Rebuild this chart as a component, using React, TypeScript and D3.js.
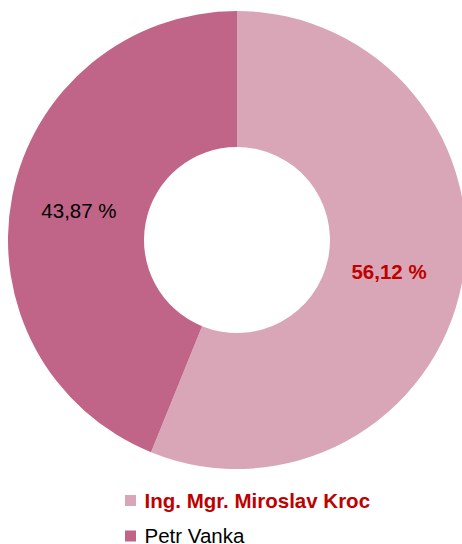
import React from "react";
import * as d3 from "d3";

const categories = ["Ing. Mgr. Miroslav Kroc", "Petr Vanka"];
const values = [56.12, 43.87];
const labels = ["56,12 %", "43,87 %"];
const colors = ["#D8A6B6", "#C06488"];
const labelColors = ["#C00000", "#000000"];
const labelWeights = ["bold", "normal"];
const labelDx = [-6, 0];

export default function App() {
  const W = 462, H = 544;
  const cx = 237, cy = 240, R = 229, r = 93;
  const pie = d3.pie<number>().sort(null).value((d) => d)(values);
  const arc = d3.arc<d3.PieArcDatum<number>>().innerRadius(r).outerRadius(R);
  const font = "Liberation Sans, Arial, sans-serif";
  return (
    <svg width={W} height={H} style={{ position: "absolute", left: 0, top: 0 }}>
      <rect width={W} height={H} fill="#fff" />
      <g transform={`translate(${cx},${cy})`}>
        {pie.map((p, i) => (
          <path key={i} d={arc(p) || ""} fill={colors[i]} />
        ))}
        {pie.map((p, i) => {
          const [x, y] = arc.centroid(p);
          return (
            <text key={i} x={x + labelDx[i]} y={y + 1} textAnchor="middle" dominantBaseline="central"
              fontFamily={font} fontSize={20.5} fontWeight={labelWeights[i]} fill={labelColors[i]}>
              {labels[i]}
            </text>
          );
        })}
      </g>
      {categories.map((c, i) => (
        <g key={i} transform={`translate(125,${495 + i * 35.5})`}>
          <rect width={11} height={11} fill={colors[i]} />
          <text x={19.5} y={12.5} fontFamily={font} fontSize={20.5} fontWeight={labelWeights[i]}
            fill={labelColors[i]}>{c}</text>
        </g>
      ))}
    </svg>
  );
}
